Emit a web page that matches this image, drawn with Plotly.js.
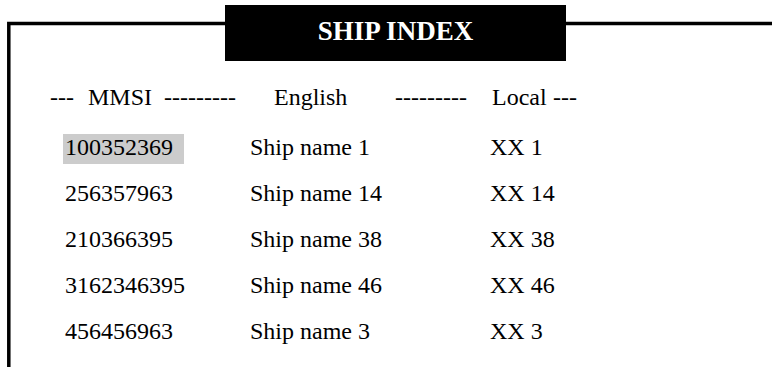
<!DOCTYPE html>
<html>
<head>
<meta charset="utf-8">
<script src="https://cdn.plot.ly/plotly-3.0.1.min.js"></script>
<style>html,body{margin:0;padding:0;background:#fff;overflow:hidden}</style>
</head>
<body>
<div id="chart" style="width:772px;height:367px"></div>
<script>
// ---- data ----
const titleText = "SHIP INDEX";
const headerLabels = ["---", "MMSI", "---------", "English", "---------", "Local", "---"];
const mmsi = ["100352369", "256357963", "210366395", "3162346395", "456456963"];
const englishNames = ["Ship name 1", "Ship name 14", "Ship name 38", "Ship name 46", "Ship name 3"];
const localNames = ["XX 1", "XX 14", "XX 38", "XX 46", "XX 3"];
const highlightedRow = 0;

// ---- layout constants (pixel space) ----
const W = 772, H = 367;
const FONT = '"Liberation Serif", "Times New Roman", serif';
const colX = [65, 250, 490];          // left edges of the three columns
const rowY0 = 149, rowStep = 46;       // centre of first row, row spacing
const headerY = 99;
const headerX = [50, 88, 200, 274, 431, 492, 553];
const headerPos = ["middle right", "middle right", "middle center", "middle right", "middle center", "middle right", "middle right"];
const rowY = mmsi.map((_, i) => rowY0 + i * rowStep);

const textStyle = {family: FONT, size: 24, color: "#000"};

const traces = [
  {
    type: "scatter", mode: "text",
    x: headerX, y: headerLabels.map(() => headerY),
    text: headerLabels, textposition: headerPos,
    textfont: textStyle, hoverinfo: "skip", cliponaxis: false
  },
  {
    type: "scatter", mode: "text",
    x: mmsi.map(() => colX[0]), y: rowY, text: mmsi,
    textposition: "middle right", textfont: textStyle, hoverinfo: "skip", cliponaxis: false
  },
  {
    type: "scatter", mode: "text",
    x: englishNames.map(() => colX[1]), y: rowY, text: englishNames,
    textposition: "middle right", textfont: textStyle, hoverinfo: "skip", cliponaxis: false
  },
  {
    type: "scatter", mode: "text",
    x: localNames.map(() => colX[2]), y: rowY, text: localNames,
    textposition: "middle right", textfont: textStyle, hoverinfo: "skip", cliponaxis: false
  },
  {
    type: "scatter", mode: "text",
    x: [395.5], y: [33], text: [titleText],
    textposition: "middle center",
    textfont: {family: FONT, size: 27, color: "#fff", weight: "bold"},
    hoverinfo: "skip", cliponaxis: false
  }
];

const hy = rowY[highlightedRow];
const shapes = [
  // highlighted cell
  {type: "rect", xref: "x", yref: "y", x0: colX[0] - 2, x1: colX[0] + 119, y0: hy - 15, y1: hy + 15,
   fillcolor: "#cccccc", line: {width: 0}, layer: "below"},
  // frame: left edge and top edge
  {type: "path", xref: "x", yref: "y", path: `M 8.8,${H + 5} L 8.8,23.6 L ${W + 5},23.6`,
   line: {color: "#000", width: 3.5}, layer: "below"},
  // title box
  {type: "rect", xref: "x", yref: "y", x0: 225, x1: 566, y0: 5, y1: 61,
   fillcolor: "#000", line: {width: 0}, layer: "below"}
];

const layout = {
  width: W, height: H,
  margin: {l: 0, r: 0, t: 0, b: 0, pad: 0},
  paper_bgcolor: "#fff", plot_bgcolor: "#fff",
  showlegend: false,
  xaxis: {range: [0, W], visible: false, fixedrange: true},
  yaxis: {range: [H, 0], visible: false, fixedrange: true},
  shapes: shapes
};

Plotly.newPlot("chart", traces, layout, {staticPlot: true, displayModeBar: false});
</script>
</body>
</html>
